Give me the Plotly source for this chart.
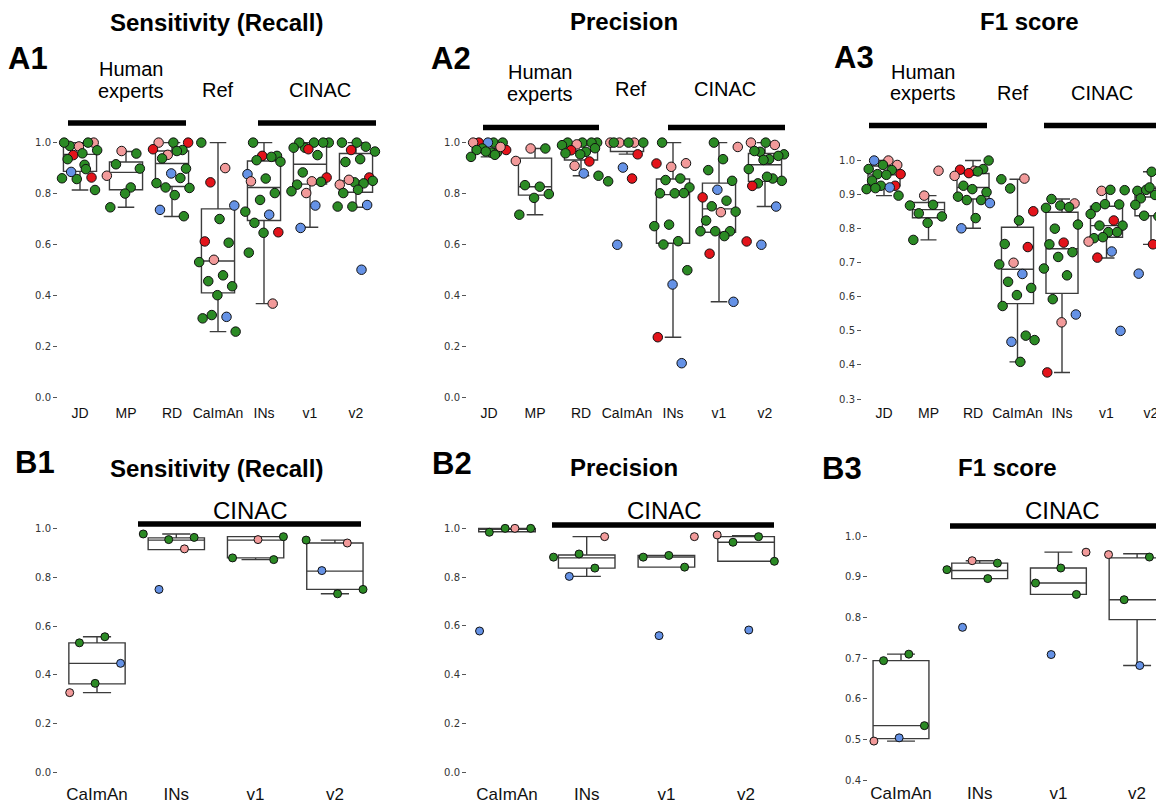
import plotly.graph_objects as go

# The page body adds an 8px margin, so the figure is 8px smaller than the window
OFF = 8
FW, FH = 1164 - OFF, 804 - OFF
COL = {'g': '#2b8a24', 'r': '#e3141b', 'p': '#f29a9a', 'b': '#6592e6'}

cats_A = ["JD", "MP", "RD", "CaImAn", "INs", "v1", "v2"]
cats_B = ["CaImAn", "INs", "v1", "v2"]

# ---------------- A1 Sensitivity ----------------
A1_vals = [
    [0.913, 0.987, 1.0, 0.985, 1.0, 1.0, 0.951, 0.97, 0.958, 0.935, 0.863, 0.857, 0.86, 0.896, 0.885, 0.814],
    [0.957, 0.967, 0.87, 0.824, 0.915, 0.898, 0.8, 0.746],
    [1.0, 1.0, 1.0, 0.971, 0.952, 0.974, 0.967, 0.938, 0.898, 0.879, 0.841, 0.861, 0.824, 0.822, 0.794, 0.736, 0.711],
    [1.0, 0.9, 0.844, 0.753, 0.7, 0.612, 0.607, 0.54, 0.531, 0.479, 0.456, 0.436, 0.401, 0.31, 0.316, 0.323, 0.258],
    [1.0, 0.948, 0.948, 0.876, 0.944, 0.931, 0.925, 0.859, 0.848, 0.802, 0.775, 0.729, 0.717, 0.685, 0.648, 0.646, 0.568, 0.368],
    [0.98, 1.0, 1.0, 1.0, 1.0, 0.974, 0.98, 0.951, 0.883, 0.863, 0.848, 0.835, 0.846, 0.802, 0.809, 0.753, 0.665],
    [1.0, 1.0, 0.984, 0.971, 0.965, 0.935, 0.924, 0.863, 0.844, 0.835, 0.84, 0.854, 0.85, 0.815, 0.802, 0.755, 0.749, 0.749, 0.501],
]
A1_cols = ["ggppggrgggrgggbg", "gppggggg", "rgpgprgggbgggggbg", "gprbgrgpggggggbgg",
           "ggrbggggpgggbgrggp", "gggggrgggrpggpgbb", "gggrgggrgpgpgggbggb"]
A1_q3 = [1.0, 0.924, 0.967, 0.74, 0.928, 0.993, 0.957]
A1_med = [0.954, 0.883, 0.918, 0.535, 0.824, 0.915, 0.85]
A1_q1 = [0.887, 0.815, 0.828, 0.41, 0.694, 0.837, 0.805]
A1_lo = [0.814, 0.746, 0.71, 0.258, 0.368, 0.668, 0.746]
A1_hi = [1.0, 0.965, 1.0, 1.0, 1.0, 1.0, 1.0]

# ---------------- A2 Precision ----------------
A2_vals = [
    [1.0, 1.0, 1.0, 1.0, 1.0, 0.961, 0.977, 0.971, 0.961, 0.971, 0.983, 0.965, 0.944, 0.952],
    [0.977, 0.977, 0.928, 0.827, 0.833, 0.798, 0.783, 0.717],
    [1.0, 1.0, 1.0, 1.0, 0.993, 0.99, 0.964, 0.97, 0.978, 0.954, 0.958, 0.926, 0.909, 0.87, 0.879],
    [1.0, 1.0, 1.0, 1.0, 1.0, 1.0, 0.954, 0.902, 0.848, 0.859, 0.599],
    [1.0, 0.919, 0.905, 0.918, 0.859, 0.853, 0.824, 0.801, 0.801, 0.802, 0.678, 0.672, 0.613, 0.6, 0.499, 0.443, 0.236, 0.134],
    [1.0, 0.983, 0.935, 0.892, 0.85, 0.815, 0.785, 0.772, 0.75, 0.729, 0.727, 0.694, 0.652, 0.652, 0.652, 0.633, 0.564, 0.375],
    [1.0, 1.0, 0.991, 0.964, 0.954, 0.935, 0.967, 0.948, 0.932, 0.896, 0.859, 0.84, 0.85, 0.866, 0.83, 0.749, 0.599, 0.612],
]
A2_cols = ["grgbpggrggpggg", "gppggggg", "ggggpggrgggrpgb", "pppgggrbgrb",
           "gpprgggggggggggbrb", "gpgggbrgggpgggggrb", "gppgggggggggggrbbr"]
A2_q3 = [1.0, 0.939, 0.99, 1.0, 0.857, 0.841, 0.957]
A2_med = [0.977, 0.827, 0.967, 1.0, 0.796, 0.74, 0.913]
A2_q1 = [0.965, 0.794, 0.932, 0.965, 0.605, 0.648, 0.848]
A2_lo = [0.944, 0.717, 0.87, 0.955, 0.236, 0.375, 0.749]
A2_hi = [1.0, 0.977, 1.0, 1.0, 1.0, 1.0, 1.0]

# ---------------- A3 F1 ----------------
A3_vals = [
    [1.0, 1.0, 0.987, 0.987, 0.975, 0.972, 0.96, 0.96, 0.958, 0.941, 0.926, 0.926, 0.916, 0.921, 0.919, 0.897],
    [0.97, 0.897, 0.868, 0.87, 0.845, 0.836, 0.817, 0.767],
    [1.0, 0.97, 0.973, 0.975, 0.963, 0.955, 0.968, 0.926, 0.907, 0.916, 0.894, 0.884, 0.884, 0.875, 0.831, 0.801],
    [0.945, 0.947, 0.918, 0.851, 0.824, 0.755, 0.746, 0.7, 0.695, 0.667, 0.644, 0.626, 0.605, 0.573, 0.486, 0.468, 0.473, 0.409],
    [0.887, 0.874, 0.868, 0.861, 0.863, 0.8, 0.812, 0.759, 0.754, 0.731, 0.717, 0.683, 0.663, 0.593, 0.548, 0.525, 0.378],
    [0.911, 0.913, 0.914, 0.863, 0.871, 0.872, 0.843, 0.824, 0.809, 0.809, 0.79, 0.772, 0.79, 0.775, 0.762, 0.733, 0.715, 0.5],
    [0.967, 0.911, 0.919, 0.914, 0.908, 0.899, 0.889, 0.944, 0.921, 0.87, 0.836, 0.838, 0.846, 0.754, 0.668, 0.6],
]
A3_cols = ["pbpggggrggrggbgg", "ppgggggg", "gprgrpggggggggbgb"[:3] + "grpgggggggbgb", "gpgrggrpgbgggggbgg",
           "gpgggggrggggggbpr", "pggggggrggggggpbrb", "ggpgpgggggggrrbb"]
A3_q3 = [0.984, 0.877, 0.962, 0.804, 0.848, 0.866, 0.918]
A3_med = [0.958, 0.856, 0.921, 0.681, 0.741, 0.809, 0.893]
A3_q1 = [0.926, 0.832, 0.887, 0.58, 0.61, 0.775, 0.838]
A3_lo = [0.897, 0.767, 0.801, 0.409, 0.378, 0.714, 0.754]
A3_hi = [1.0, 0.897, 1.0, 0.945, 0.887, 0.914, 0.967]

# ---------------- B1 Sensitivity ----------------
B1_vals = [[0.556, 0.531, 0.447, 0.365, 0.327], [0.963, 0.954, 0.977, 0.916, 0.75],
           [0.966, 0.954, 0.879, 0.872], [0.952, 0.94, 0.827, 0.75, 0.732]]
B1_cols = ["ggbgp", "gggpb", "gpgg", "gpbgg"]
B1_q3 = [0.531, 0.961, 0.966, 0.94]
B1_med = [0.447, 0.952, 0.952, 0.825]
B1_q1 = [0.363, 0.913, 0.879, 0.75]
B1_lo = [0.327, 0.913, 0.872, 0.732]
B1_hi = [0.556, 0.977, 0.966, 0.952]

# ---------------- B2 Precision ----------------
B2_vals = [[1.0, 0.984, 1.0, 1.0, 0.579], [0.966, 0.895, 0.882, 0.837, 0.803],
           [0.966, 0.889, 0.882, 0.841, 0.56], [0.973, 0.966, 0.943, 0.865, 0.583]]
B2_cols = ["pgggb", "pgggb", "pgggb", "pgggb"]
B2_q3 = [1.0, 0.891, 0.889, 0.966]
B2_med = [1.0, 0.879, 0.882, 0.943]
B2_q1 = [0.986, 0.837, 0.841, 0.865]
B2_lo = [0.986, 0.803, 0.841, 0.865]
B2_hi = [1.0, 0.966, 0.889, 0.97]

# ---------------- B3 F1 ----------------
B3_vals = [[0.71, 0.694, 0.534, 0.504, 0.496], [0.934, 0.94, 0.918, 0.896, 0.776],
           [0.961, 0.922, 0.885, 0.857, 0.709], [0.955, 0.949, 0.844, 0.795, 0.682]]
B3_cols = ["gggbp", "gpggb", "pgggb", "pgggb"]
B3_q3 = [0.694, 0.934, 0.922, 0.947]
B3_med = [0.534, 0.916, 0.885, 0.844]
B3_q1 = [0.502, 0.896, 0.857, 0.795]
B3_lo = [0.496, 0.896, 0.857, 0.682]
B3_hi = [0.71, 0.94, 0.961, 0.957]

# ---------------- layout geometry (screen pixels) ----------------
panels = [
    dict(cats=cats_A, vals=A1_vals, cols=A1_cols, q1=A1_q1, med=A1_med, q3=A1_q3, lo=A1_lo, hi=A1_hi,
         c0=80, s=46, left=58, right=379, pref=143.3, k=256, top=131, bottom=403, xax=405,
         ticks=[0, 0.2, 0.4, 0.6, 0.8, 1.0], msize=9.5, xfont=14, bw=0.72),
    dict(cats=cats_A, vals=A2_vals, cols=A2_cols, q1=A2_q1, med=A2_med, q3=A2_q3, lo=A2_lo, hi=A2_hi,
         c0=489, s=46, left=467, right=788, pref=143.3, k=256, top=131, bottom=403, xax=405,
         ticks=[0, 0.2, 0.4, 0.6, 0.8, 1.0], msize=9.5, xfont=14, bw=0.72),
    dict(cats=cats_A, vals=A3_vals, cols=A3_cols, q1=A3_q1, med=A3_med, q3=A3_q3, lo=A3_lo, hi=A3_hi,
         c0=884, s=44.5, left=862, right=1164, pref=161.3, k=342.4, top=131, bottom=404, xax=405,
         ticks=[0.3, 0.4, 0.5, 0.6, 0.7, 0.8, 0.9, 1.0], msize=9.5, xfont=14, bw=0.72),
    dict(cats=cats_B, vals=B1_vals, cols=B1_cols, q1=B1_q1, med=B1_med, q3=B1_q3, lo=B1_lo, hi=B1_hi,
         c0=97, s=79.3, left=58, right=375, pref=531, k=245.3, top=521, bottom=779, xax=786,
         ticks=[0, 0.2, 0.4, 0.6, 0.8, 1.0], msize=8, xfont=17, bw=0.71),
    dict(cats=cats_B, vals=B2_vals, cols=B2_cols, q1=B2_q1, med=B2_med, q3=B2_q3, lo=B2_lo, hi=B2_hi,
         c0=507, s=79.7, left=467, right=786, pref=531, k=245, top=521, bottom=779, xax=786,
         ticks=[0, 0.2, 0.4, 0.6, 0.8, 1.0], msize=8, xfont=17, bw=0.71),
    dict(cats=cats_B, vals=B3_vals, cols=B3_cols, q1=B3_q1, med=B3_med, q3=B3_q3, lo=B3_lo, hi=B3_hi,
         c0=901, s=78.7, left=868, right=1164, pref=539, k=408.3, top=521, bottom=785, xax=785,
         ticks=[0.4, 0.5, 0.6, 0.7, 0.8, 0.9, 1.0], msize=8, xfont=17, bw=0.71),
]


def PX(x):
    return (x - OFF) / FW


def PY(y):
    return 1 - (y - OFF) / FH


fig = go.Figure()
layout = dict(width=FW, height=FH, margin=dict(l=0, r=0, t=0, b=0, pad=0), showlegend=False,
              plot_bgcolor='white', paper_bgcolor='white')

GOLD = 0.6180339887
for i, p in enumerate(panels, start=1):
    xa = f"x{i}" if i > 1 else "x"
    ya = f"y{i}" if i > 1 else "y"
    n = len(p['cats'])
    pos = list(range(n))
    fig.add_trace(go.Box(
        x=pos, q1=p['q1'], median=p['med'], q3=p['q3'],
        lowerfence=p['lo'], upperfence=p['hi'],
        width=p['bw'], whiskerwidth=0.5, boxpoints=False,
        fillcolor='rgba(255,255,255,0)', line=dict(color='#3c3c3c', width=1.4),
        xaxis=xa, yaxis=ya, hoverinfo='skip'))
    xs, ys, cs = [], [], []
    for gi, (vals, cols) in enumerate(zip(p['vals'], p['cols'])):
        for j, v in enumerate(vals):
            off = (((j + 1) * GOLD + 0.15 * gi) % 1.0 - 0.5) * 0.84
            xs.append(gi + off)
            ys.append(v)
            cs.append(COL[cols[j]])
    fig.add_trace(go.Scatter(
        x=xs, y=ys, mode='markers', cliponaxis=False,
        marker=dict(size=p['msize'], color=cs, line=dict(color='#111', width=1)),
        xaxis=xa, yaxis=ya, hoverinfo='skip'))

    xdom = [max(0.0, PX(p['left'])), min(1.0, PX(p['right']))]
    xr = [(p['left'] - p['c0']) / p['s'], (p['right'] - p['c0']) / p['s']]
    ydom = [PY(p['bottom']), PY(p['top'])]
    yr = [1.0 - (p['bottom'] - p['pref']) / p['k'], 1.0 + (p['pref'] - p['top']) / p['k']]
    kx = "xaxis" if i == 1 else f"xaxis{i}"
    ky = "yaxis" if i == 1 else f"yaxis{i}"
    layout[kx] = dict(domain=xdom, range=xr, anchor='free', position=PY(p['xax']),
                      tickvals=pos, ticktext=p['cats'],
                      showgrid=False, zeroline=False, showline=False, ticks='',
                      tickfont=dict(family='Liberation Sans, Arial', size=p['xfont'], color='#111'))
    layout[ky] = dict(domain=ydom, range=yr, anchor=xa, tickvals=p['ticks'], tickformat='.1f',
                      showgrid=False, zeroline=False, showline=False, ticks='outside',
                      ticklen=4, tickcolor='#555', tickwidth=1,
                      tickfont=dict(family='DejaVu Sans', size=10, color='#333'))

fig.update_layout(**layout)

# ---------------- decorations (screen pixel positions) ----------------
ann = []


def text(t, x, y, size, bold=False):
    ann.append(dict(text=f"<b>{t}</b>" if bold else t, x=PX(x), y=PY(y), xref='paper', yref='paper',
                    showarrow=False, xanchor='center', yanchor='middle',
                    font=dict(family='Liberation Sans, Arial', size=size, color='black')))


titles = [("Sensitivity (Recall)", 216, 23), ("Precision", 623.5, 21.5), ("F1 score", 1029, 22),
          ("Sensitivity (Recall)", 216, 470.5), ("Precision", 623.5, 470), ("F1 score", 1007, 470)]
for t, x, y in titles:
    text(t, x, y, 24, bold=True)
for t, x, y in [("A1", 27.5, 58.5), ("A2", 451, 59), ("A3", 854, 58),
                ("B1", 34.5, 465), ("B2", 451.5, 466), ("B3", 841.5, 471)]:
    text(t, x, y, 31, bold=True)
for hx, hy, ex, ey, rx, ry, cx, cy in [(130.5, 69.5, 131, 91, 218, 90, 319.5, 90),
                                       (539.5, 72.5, 540, 94, 631, 89.5, 725, 89.5),
                                       (922.5, 72.5, 923, 93, 1013, 93, 1102, 93)]:
    text("Human", hx, hy, 20)
    text("experts", ex, ey, 20)
    text("Ref", rx, ry, 20)
    text("CINAC", cx, cy, 20)
for cx, cy in [(250, 513), (664.5, 513), (1062.5, 513)]:
    text("CINAC", cx, cy, 24)

shapes = []
for x0, x1, y in [(68, 186, 123.5), (258, 376, 123.5), (483, 599, 128), (668, 785, 128),
                  (869, 987, 126), (1044, 1161, 126), (138, 361, 526.5), (552, 774, 527.5), (950, 1164, 528.5)]:
    shapes.append(dict(type='line', xref='paper', yref='paper', x0=PX(x0), x1=min(1.0, PX(x1)),
                       y0=PY(y), y1=PY(y), line=dict(color='black', width=5.5)))

fig.update_layout(annotations=ann, shapes=shapes)
fig.write_html("out.html")
